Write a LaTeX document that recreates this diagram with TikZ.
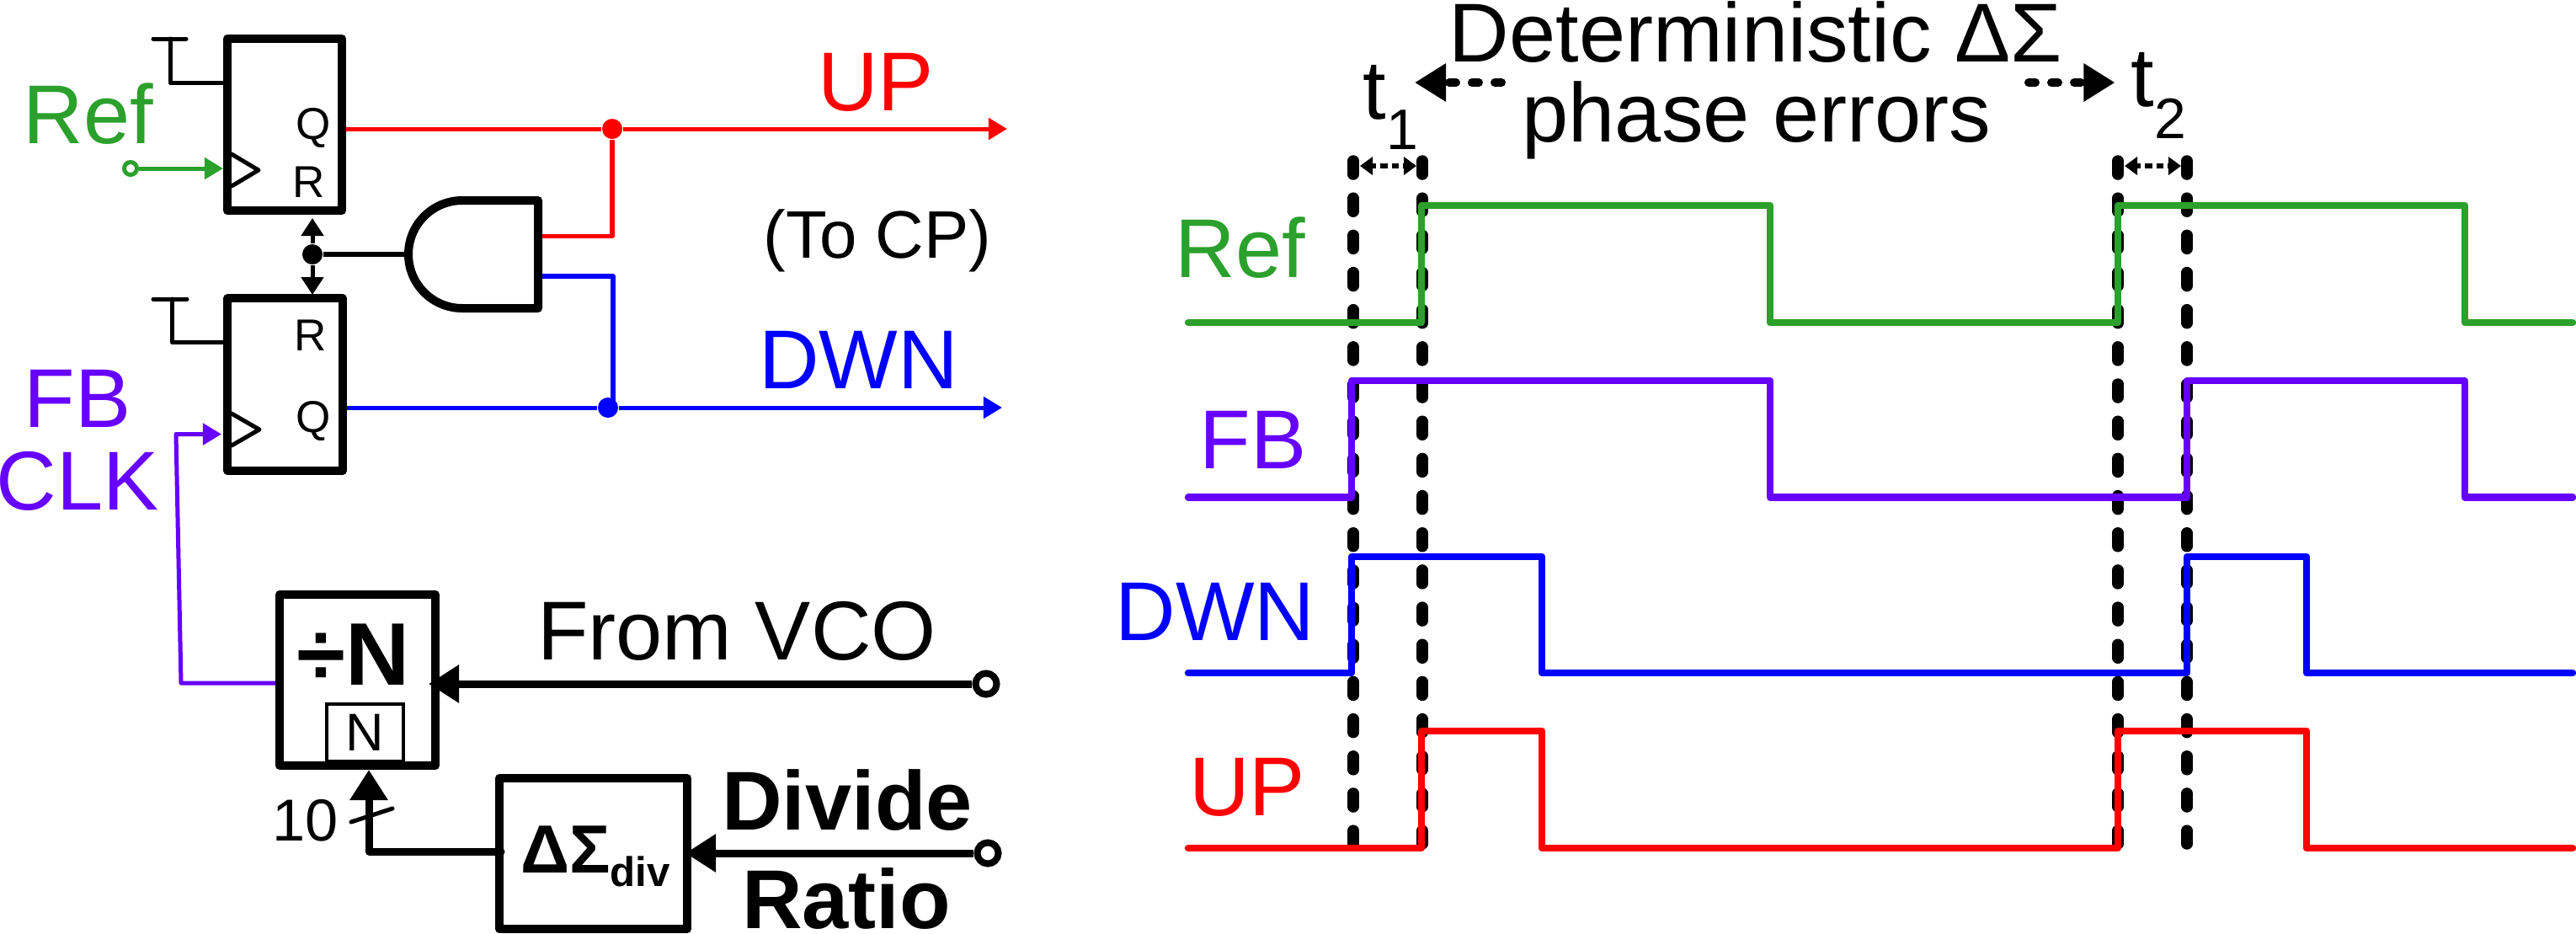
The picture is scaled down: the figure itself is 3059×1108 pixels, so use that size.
\documentclass[tikz,border=0pt]{standalone}
\usepackage{fontspec}
\setmainfont{Liberation Sans}
\usetikzlibrary{arrows.meta}
\definecolor{refgreen}{HTML}{2CA02C}
\definecolor{fbpurple}{HTML}{6600FF}
\tikzset{
  biglbl/.style={font=\fontsize{28.2}{34}\selectfont,inner sep=0pt,anchor=base},
  boldlbl/.style={font=\bfseries\fontsize{28.2}{34}\selectfont,inner sep=0pt,anchor=base},
  pinlbl/.style={font=\fontsize{15.1}{18}\selectfont,inner sep=0pt,anchor=base},
  block/.style={draw=black,line width=.1cm,line join=round,inner sep=0pt},
  pin/.style={draw=black,line width=.05cm,line cap=round,line join=round},
  wiredot/.style={circle,inner sep=0pt,minimum size=.24cm},
  term/.style={circle,draw,fill=white,inner sep=0pt},
  thickwire/.style={draw=black,line width=.09cm,line join=round},
  smalltip/.style={-{Triangle[length=.22cm,width=.25cm]}},
  bigtip/.style={-{Triangle[length=.36cm,width=.43cm]}},
  wave/.style={line width=.085cm,line join=round,line cap=round},
  edgedash/.style={line width=.135cm,line cap=round,dash pattern=on .16cm off .2815cm},
  errdots/.style={line width=.1cm,line cap=round,dash pattern=on .08cm off .19cm,-{Triangle[length=.37cm,width=.43cm]}},
  gapdots/.style={line width=.06cm,dash pattern=on .085cm off .05cm,dash phase=.035cm,{Triangle[length=.15cm,width=.21cm]}-{Triangle[length=.15cm,width=.21cm]}}
}
\begin{document}
\begin{tikzpicture}[x=.01cm,y=-.01cm]
\useasboundingbox (0,0) rectangle (3059,1108);
\node[block,minimum width=1.36cm,minimum height=2.04cm] (ff1) at (338,148) {};
\node[block,minimum width=1.36cm,minimum height=2.05cm] (ff2) at (338.5,456.5) {};
\node[block,minimum width=1.85cm,minimum height=2.03cm] (ndiv) at (424.5,807.5) {};
\node[block,minimum width=2.23cm,minimum height=1.79cm] (dsm) at (704.5,1013.5) {};
\node[draw=black,line width=.04cm,inner sep=0pt,minimum width=.91cm,minimum height=.68cm,font=\fontsize{17.9}{21}\selectfont] (nreg) at (433.5,870) {N};
\draw[block] (639,238) -- (549,238) arc[start angle=270,end angle=90,radius=64] -- (639,366) -- cycle;
\coordinate (andrst) at (480,302);
\coordinate (andup) at (644,280.5);
\coordinate (anddwn) at (644,328);
\draw[pin] (275,183) -- (307,202) -- (275,221);
\draw[pin] (275,491) -- (308,510) -- (275,529);
\coordinate (set1) at (202,46);
\coordinate (set2) at (204,355);
\draw[pin] (182,46) -- (221,46);
\draw[pin] (182,355) -- (222,355);
\draw[pin] (set1) |- (ff1.west |- 0,98);
\draw[pin] (set2) |- (ff2.west |- 0,406);
\node[pinlbl] (ff1q) at (372,165) {Q};
\node[pinlbl] (ff1r) at (367,234) {R};
\node[pinlbl] (ff2r) at (369,416) {R};
\node[pinlbl] (ff2q) at (372,513) {Q};
\node[wiredot,fill=red] (updot) at (727,153) {};
\node[wiredot,fill=blue] (dwndot) at (722,484) {};
\node[wiredot,fill=black] (rstdot) at (371,302) {};
\coordinate (uptip) at (1196,153);
\coordinate (dwntip) at (1190,484);
\coordinate (rstup) at (371,259);
\coordinate (rstdn) at (371,350);
\coordinate (dwnbend) at (728,328);
\draw[red,line width=.05cm] (ff1.east |- updot) -- (updot);
\draw[red,line width=.05cm,smalltip] (updot) -- (uptip);
\draw[red,line width=.055cm,line join=round] (updot) |- (andup);
\draw[blue,line width=.05cm] (ff2.east |- dwndot) -- (dwndot);
\draw[blue,line width=.05cm,smalltip] (dwndot) -- (dwntip);
\draw[blue,line width=.055cm,line join=round] (anddwn) -- (dwnbend) -- (dwnbend |- dwndot);
\draw[line width=.06cm] (rstdot) -- (andrst);
\draw[line width=.05cm,-{Triangle[length=.21cm,width=.26cm]}] (rstdot) -- (rstup);
\draw[line width=.05cm,-{Triangle[length=.21cm,width=.26cm]}] (rstdot) -- (rstdn);
\node[term,draw=refgreen,line width=.05cm,minimum size=.15cm] (refin) at (155,200) {};
\coordinate (ff1ck) at (265,200);
\draw[refgreen,line width=.05cm,smalltip] (refin) -- (ff1ck);
\coordinate (ff2ck) at (263,515.5);
\coordinate (fbbend) at (209,515.5);
\coordinate (fbfoot) at (215,811);
\draw[fbpurple,line width=.05cm,line join=round,smalltip] (ndiv.west |- fbfoot) -- (fbfoot) -- (fbbend) -- (ff2ck);
\node[term,draw=black,line width=.08cm,minimum size=.25cm] (vco) at (1171,812) {};
\node[term,draw=black,line width=.08cm,minimum size=.25cm] (ratio) at (1173,1013) {};
\coordinate (vcotip) at (509,812);
\coordinate (ratiotip) at (814,1013);
\draw[thickwire,bigtip] (vco) -- (vcotip);
\draw[thickwire,bigtip] (ratio) -- (ratiotip);
\coordinate (dsmout) at (595,1011);
\coordinate (ntip) at (438,914);
\draw[thickwire,line cap=round,bigtip] (dsmout) -| (ntip);
\coordinate (slasha) at (417,976);
\coordinate (slashb) at (466,960);
\draw[pin] (slasha) -- (slashb);
\node[biglbl,text=red] (uplbl) at (1040,131) {UP};
\node[biglbl,font=\fontsize{22.7}{27}\selectfont] (cplbl) at (1042,306) {(To CP)};
\node[biglbl,text=blue] (dwnlbl) at (1019.5,461) {DWN};
\node[biglbl,text=refgreen] (reflbl) at (105,170) {Ref};
\node[biglbl,text=fbpurple] (fblbl) at (92,507) {FB};
\node[biglbl,text=fbpurple] (clklbl) at (92,605) {CLK};
\node[biglbl] (vcolbl) at (875,783) {From VCO};
\node[boldlbl] (divlbl) at (1006,985) {Divide};
\node[boldlbl] (ratlbl) at (1005,1102) {Ratio};
\node[boldlbl,font=\bfseries\fontsize{30}{36}\selectfont] (nlbl) at (420,813) {÷N};
\node[biglbl,font=\fontsize{20}{24}\selectfont] (buslbl) at (363,998) {10};
\node[boldlbl,font=\bfseries\fontsize{23}{27}\selectfont] (dsmlbl) at (707,1036) {ΔΣ\raisebox{-.16cm}{\fontsize{14}{17}\selectfont div}};
\foreach \xd in {1607,1689,2515,2597}
  \draw[edgedash] (\xd,191) -- (\xd,1002);
\draw[wave,refgreen] (1411,383) -- (1688,383) -- (1688,244) -- (2102,244) -- (2102,383) -- (2515,383) -- (2515,244) -- (2927,244) -- (2927,383) -- (3055,383);
\draw[wave,fbpurple] (1411,590.5) -- (1605,590.5) -- (1605,452) -- (2102,452) -- (2102,590.5) -- (2597,590.5) -- (2597,452) -- (2927,452) -- (2927,590.5) -- (3055,590.5);
\draw[wave,blue] (1411,799) -- (1605,799) -- (1605,661) -- (1831,661) -- (1831,799) -- (2597,799) -- (2597,661) -- (2739,661) -- (2739,799) -- (3055,799);
\draw[wave,red] (1411,1007) -- (1688,1007) -- (1688,868) -- (1831,868) -- (1831,1007) -- (2515,1007) -- (2515,868) -- (2739,868) -- (2739,1007) -- (3055,1007);
\node[biglbl,text=refgreen] (refwave) at (1473,329) {Ref};
\node[biglbl,text=fbpurple] (fbwave) at (1488,556) {FB};
\node[biglbl,text=blue] (dwnwave) at (1443,760) {DWN};
\node[biglbl,text=red] (upwave) at (1481,968) {UP};
\node[biglbl] (errtop) at (2085,73) {Deterministic ΔΣ};
\node[biglbl] (errbot) at (2086,168) {phase errors};
\node[biglbl,anchor=base west] (t1lbl) at (1618,141) {t\raisebox{-.36cm}{\fontsize{19.3}{23}\selectfont 1}};
\node[biglbl,anchor=base west] (t2lbl) at (2530,126) {t\raisebox{-.38cm}{\fontsize{19.3}{23}\selectfont 2}};
\coordinate (errl) at (1783,98);
\coordinate (errltip) at (1680,98);
\coordinate (errr) at (2409,98);
\coordinate (errrtip) at (2511.5,98);
\draw[errdots] (errl) -- (errltip);
\draw[errdots] (errr) -- (errrtip);
\coordinate (gap1a) at (1615,197);
\coordinate (gap1b) at (1682,197);
\coordinate (gap2a) at (2523,197);
\coordinate (gap2b) at (2590,197);
\draw[gapdots] (gap1a) -- (gap1b);
\draw[gapdots] (gap2a) -- (gap2b);
\end{tikzpicture}
\end{document}
